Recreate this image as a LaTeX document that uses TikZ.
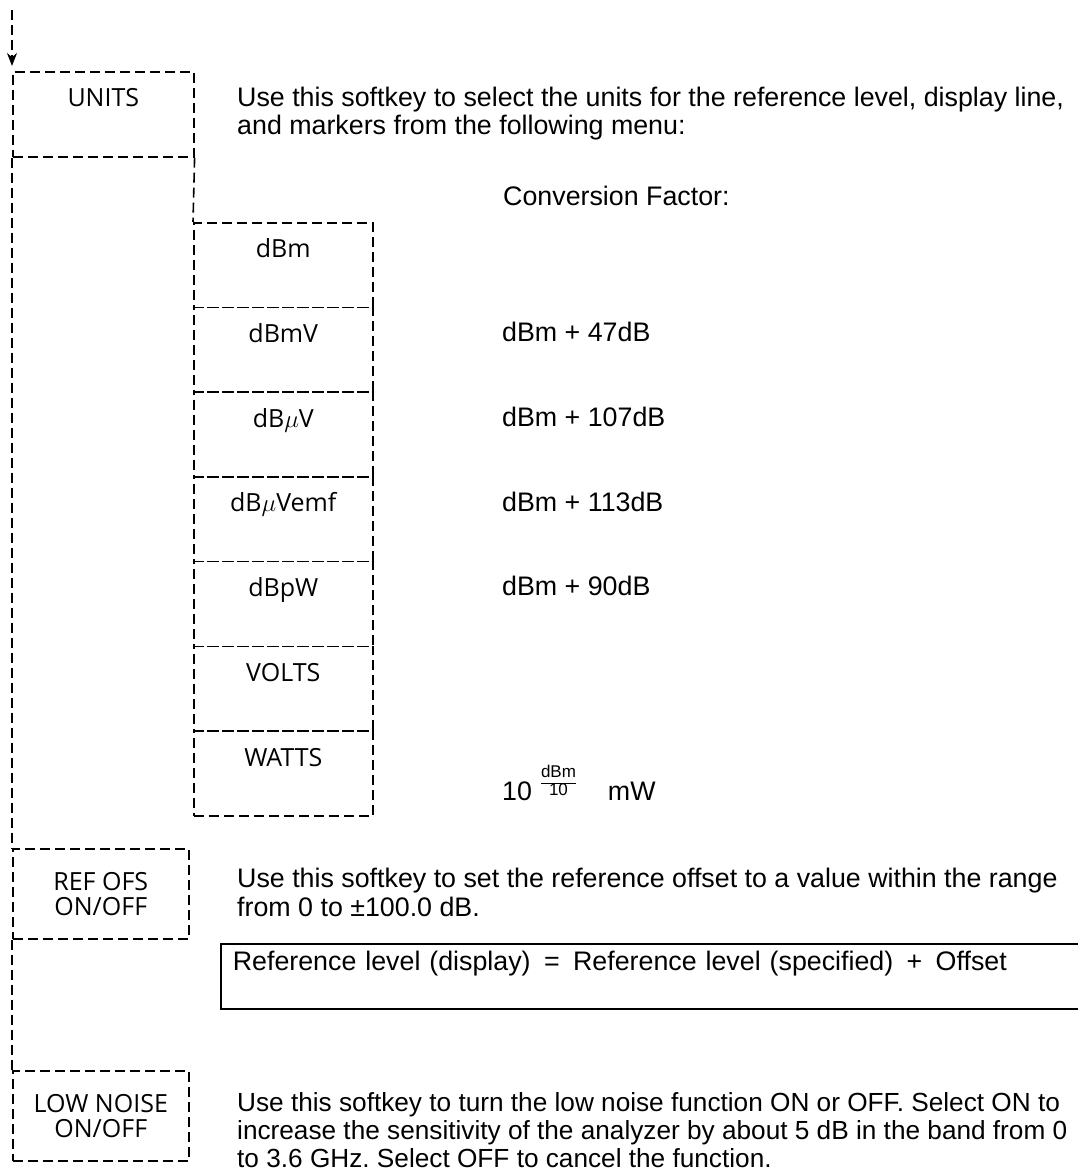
\documentclass[tikz,border=0pt]{standalone}
\usepackage{fontspec}
\setmainfont{Liberation Sans}
\newfontfamily\keyfont{Open Sans}
\usetikzlibrary{arrows.meta}
\frenchspacing
\begin{document}
\begin{tikzpicture}[x=1pt,y=-1pt,
  spine/.style={line width=1.6pt, dash pattern=on 10pt off 5pt},
  keybox/.style={draw, spine, rectangle, inner sep=0pt, anchor=north west,
    font=\keyfont\fontsize{25}{25.5}\selectfont, align=center},
  subkey/.style={keybox, text width=179pt, text height=35pt, text depth=49.7pt},
  para/.style={anchor=base west, inner sep=0pt, align=left,
    font=\fontsize{26.8}{28.5}\selectfont},
  conv/.style={anchor=base west, inner sep=0pt, font=\fontsize{26.8}{27}\selectfont},
  formula/.style={draw, line width=1.6pt, anchor=north west, inner xsep=12pt, inner ysep=0pt,
    text width=846pt, align=left, text height=27pt, text depth=38pt,
    font=\fontsize{26.8}{27}\selectfont}
]
\useasboundingbox (0,0) rectangle (1078,1173);
\fill[white] (0,0) rectangle (1078,1173);

% main softkeys
\node[keybox, text width=181pt, text height=35pt, text depth=50pt] (units) at (12,71) {UNITS};
\node[keybox, minimum width=176pt, minimum height=90pt] (refofs) at (12,848) {REF OFS\\ON/OFF};
\node[keybox, minimum width=176pt, minimum height=90pt] (lownoise) at (12,1070) {LOW NOISE\\ON/OFF};

% spine
\coordinate (start) at (12,10);
\draw[spine, shorten >=5pt, -{Stealth[length=13pt,width=10pt]}] (start) -- (units.north west);
\draw[spine] (units.south west) -- (refofs.north west);
\draw[spine] (refofs.south west) -- (lownoise.north west);

% units submenu
\node[subkey] (dbm) at (193,222) {dBm};
\node[subkey] (dbmv) at (193,306.7) {dBmV};
\node[subkey] (dbuv) at (193,391.4) {dB$\mu$V};
\node[subkey] (dbuvemf) at (193,476.1) {dB$\mu$Vemf};
\node[subkey] (dbpw) at (193,560.8) {dBpW};
\node[subkey] (volts) at (193,645.5) {VOLTS};
\node[subkey] (watts) at (193,730.2) {WATTS};
\draw[spine] (units.south east) -- (dbm.north west);

% descriptions
\node[para] (unitstext) at (237,134.5) {Use this softkey to select the units for the reference level, display line,\\and markers from the following menu:};
\node[conv] (cfhead) at (503,205) {Conversion Factor:};
\node[conv] (cfmv) at (502,341.7) {dBm + 47dB};
\node[conv] (cfuv) at (502,426.4) {dBm + 107dB};
\node[conv] (cfuvemf) at (502,511.1) {dBm + 113dB};
\node[conv] (cfpw) at (502,595.8) {dBm + 90dB};
\node[conv] (cfw) at (502,800) {10\hspace{9pt}\raisebox{5pt}{\fontsize{17}{17}\selectfont\begin{tabular}[b]{@{}c@{}}dBm\\\hline 10\end{tabular}}\hspace{32pt}mW};

\node[para] (reftext) at (237,916) {Use this softkey to set the reference offset to a value within the range\\from 0 to ±100.0 dB.};
\node[formula] (refformula) at (220,943) {Reference level (display) \,=\, Reference level (specified) \,+\, Offset};

\node[para, font=\fontsize{26.2}{28}\selectfont] (lowtext) at (237,1167) {Use this softkey to turn the low noise function ON or OFF. Select ON to\\increase the sensitivity of the analyzer by about 5 dB in the band from 0\\to 3.6 GHz. Select OFF to cancel the function.};
\end{tikzpicture}
\end{document}
